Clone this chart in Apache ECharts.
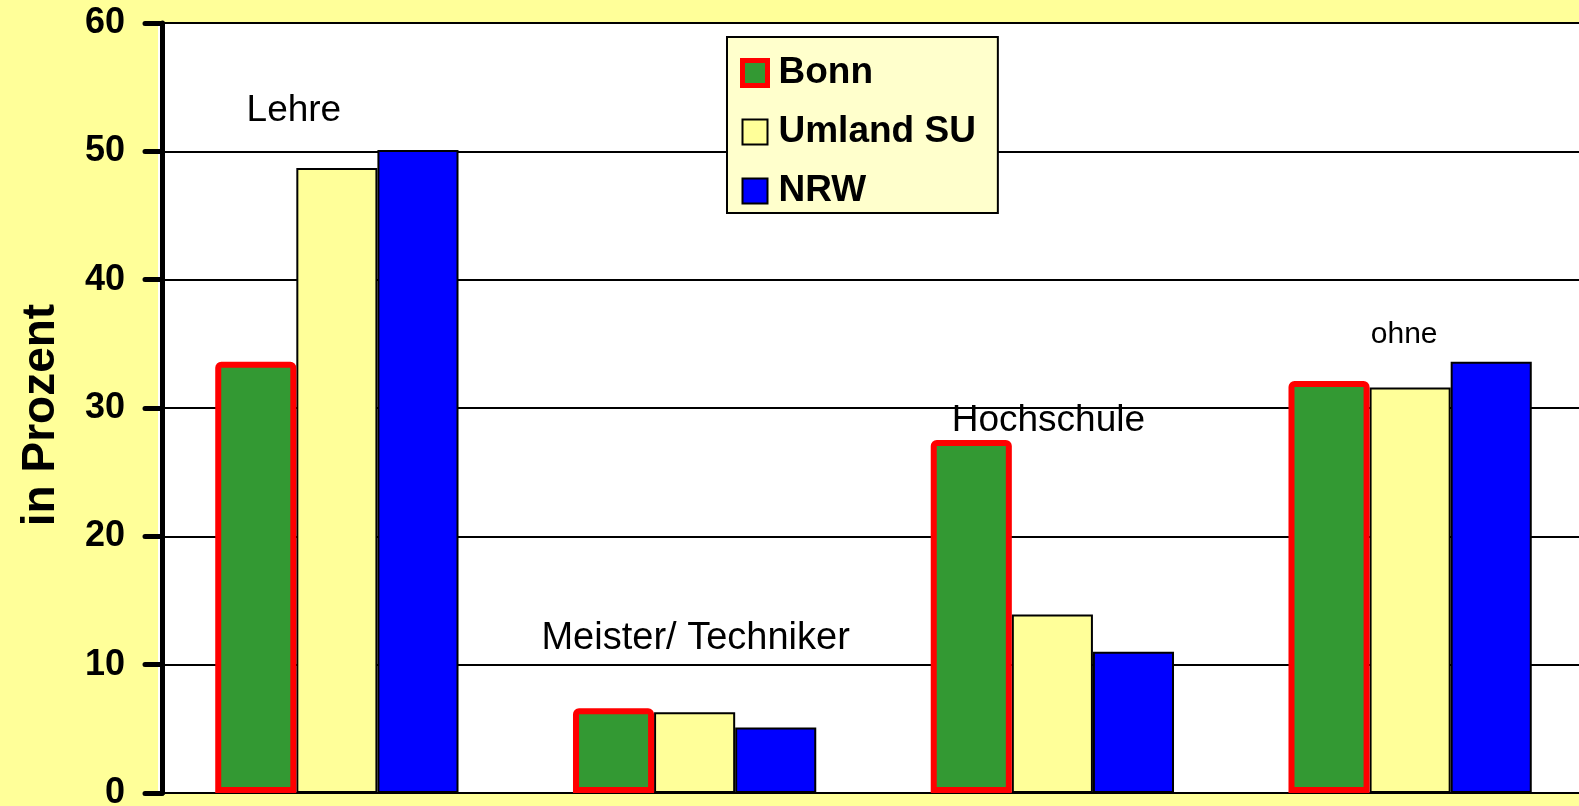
<!DOCTYPE html>
<html>
<head>
<meta charset="utf-8">
<title>Bildungsabschluss</title>
<script src="https://cdn.jsdelivr.net/npm/echarts@6/dist/echarts.min.js"></script>
<style>
  html, body {
    margin: 0;
    padding: 0;
    background-color: #ffff99;
  }
  .myChart {
    width: 1579px;
    height: 806px;
  }
</style>
</head>
<body>
<div class="myChart" id="myChart"></div>
<script>
// Abschlussarten
const categories = ['Lehre', 'Meister/ Techniker', 'Hochschule', 'ohne'];
// Anteile in Prozent
const bonn = [33.6, 6.6, 27.5, 32.1];
const umland = [48.7, 6.3, 13.9, 31.6];
const nrw = [50.1, 5.1, 11.0, 33.6];
const seriesNames = ['Bonn', 'Umland SU', 'NRW'];

const font = 'Arial, "Liberation Sans", sans-serif';

// where the category captions sit inside the plot: [x shift px, y value, font size]
const labelSpots = [
  [-43, 53.15, 37],
  [1, 12.0, 38],
  [-4, 29.0, 37],
  [-6, 35.7, 30]
];

let myChart = echarts.init(document.getElementById('myChart'));

let option = {
  backgroundColor: '#ffff99',
  animation: false,
  textStyle: {
    fontFamily: font
  },
  grid: {
    left: 158,
    width: 1431,
    top: 23,
    bottom: 13,
    outerBoundsMode: 'none',
    containLabel: false,
    show: true,
    backgroundColor: '#ffffff',
    borderWidth: 0
  },
  legend: {
    orient: 'vertical',
    left: 727,
    top: 37,
    backgroundColor: '#ffffcc',
    borderColor: '#000',
    borderWidth: 2,
    padding: [16, 22, 2, 13],
    itemGap: 19,
    itemWidth: 25,
    itemHeight: 25,
    textStyle: {
      color: '#000',
      fontSize: 37,
      fontWeight: 'bold',
      fontFamily: font,
      lineHeight: 40,
      padding: [0, 0, 0, 6]
    },
    data: [
      {
        name: seriesNames[0],
        icon: 'rect',
        itemStyle: {color: '#339933', borderColor: '#ff0000', borderWidth: 5, borderRadius: 3}
      },
      {
        name: seriesNames[1],
        icon: 'rect',
        itemStyle: {color: '#ffff99', borderColor: '#000', borderWidth: 2}
      },
      {
        name: seriesNames[2],
        icon: 'rect',
        itemStyle: {color: '#0000ff', borderColor: '#000', borderWidth: 2}
      }
    ]
  },
  xAxis: {
    type: 'category',
    data: categories,
    boundaryGap: true,
    axisLine: {
      lineStyle: {color: '#000', width: 2}
    },
    axisTick: {show: false},
    axisLabel: {show: false},
    splitLine: {show: false}
  },
  yAxis: {
    type: 'value',
    min: 0,
    max: 60,
    interval: 10,
    offset: -4,
    name: 'in Prozent',
    nameLocation: 'middle',
    nameRotate: 90,
    nameGap: 98,
    nameTextStyle: {
      color: '#000',
      fontSize: 46,
      fontWeight: 'bold',
      fontFamily: font,
      padding: [0, 14, 0, 0]
    },
    axisLine: {
      show: true,
      lineStyle: {color: '#000', width: 5}
    },
    axisTick: {
      show: true,
      length: 17,
      lineStyle: {color: '#000', width: 5, cap: 'round'}
    },
    axisLabel: {
      color: '#000',
      fontSize: 36,
      fontWeight: 'bold',
      fontFamily: font,
      margin: 37
    },
    splitLine: {
      lineStyle: {color: '#000', width: 2}
    }
  },
  series: [
    {
      name: seriesNames[0],
      type: 'bar',
      data: bonn,
      barGap: '0%',
      barCategoryGap: '32%',
      z: 3,
      itemStyle: {
        color: '#339933',
        borderColor: '#ff0000',
        borderWidth: 6,
        borderRadius: [3, 3, 0, 0]
      }
    },
    {
      name: seriesNames[1],
      type: 'bar',
      data: umland,
      z: 2,
      itemStyle: {
        color: '#ffff99',
        borderColor: '#000',
        borderWidth: 2
      }
    },
    {
      name: seriesNames[2],
      type: 'bar',
      data: nrw,
      z: 2,
      itemStyle: {
        color: '#0000ff',
        borderColor: '#000',
        borderWidth: 2
      }
    },
    {
      // Beschriftung der Gruppen
      type: 'scatter',
      symbolSize: 1,
      itemStyle: {color: 'rgba(0,0,0,0)', opacity: 1},
      silent: true,
      z: 5,
      data: categories.map(function (c, i) {
        return {
          value: [i, labelSpots[i][1]],
          label: {
            show: true,
            position: 'inside',
            offset: [labelSpots[i][0], 0],
            formatter: c,
            color: '#000000',
            opacity: 1,
            textBorderWidth: 0,
            fontSize: labelSpots[i][2],
            fontFamily: font
          }
        };
      })
    }
  ]
};

myChart.setOption(option);
</script>
</body>
</html>
